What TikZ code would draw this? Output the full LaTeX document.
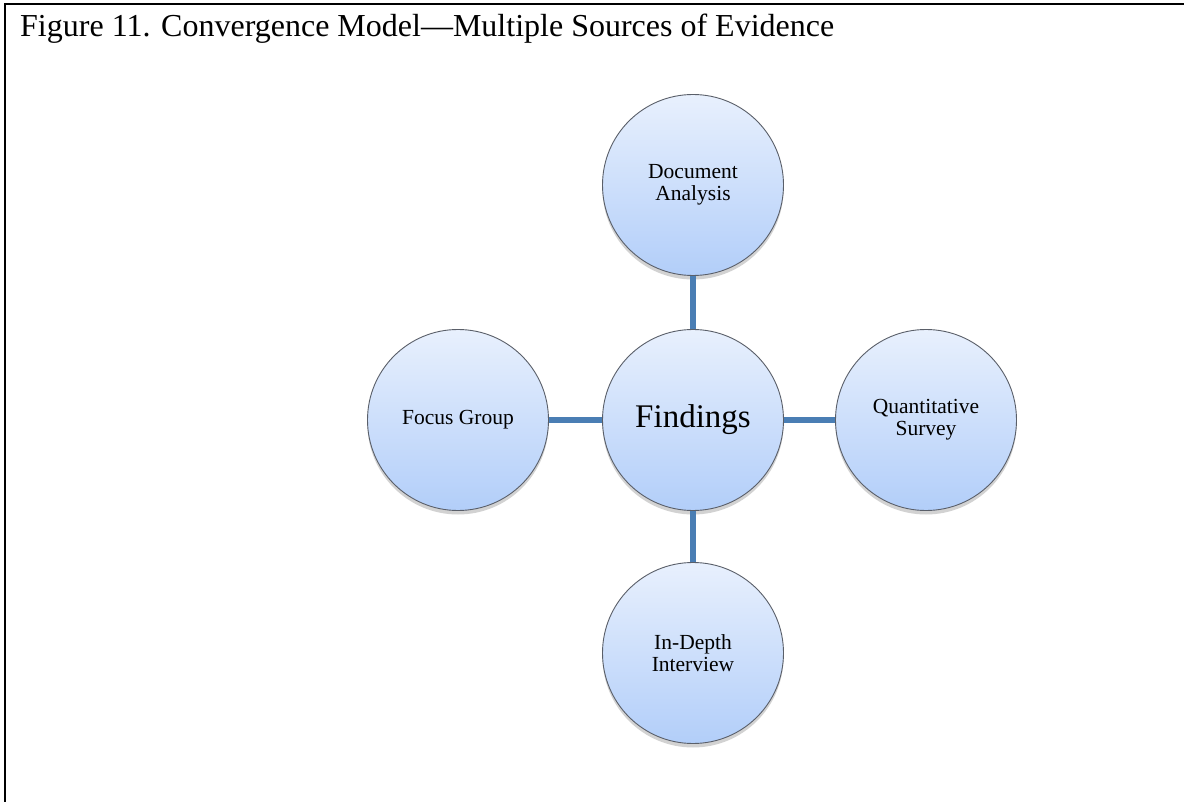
\documentclass[tikz,border=0pt]{standalone}
\usepackage{fontspec}
\setmainfont{Liberation Serif}
\usetikzlibrary{shadows}
\definecolor{linkblue}{RGB}{74,126,180}
\definecolor{ctop}{RGB}{232,240,253}
\definecolor{cbot}{RGB}{178,206,249}
\definecolor{cedge}{RGB}{90,95,105}
\tikzset{
  src/.style={circle, minimum size=181pt, inner sep=0pt, draw=cedge, line width=0.9pt,
    top color=ctop, bottom color=cbot, align=center,
    font=\fontsize{21.5pt}{22pt}\selectfont,
    drop shadow={shadow xshift=0pt, shadow yshift=-4pt, opacity=0.25, fill=black!70}},
  hub/.style={src, font=\fontsize{33pt}{36pt}\selectfont},
  link/.style={draw=linkblue, line width=5.5pt},
  frameline/.style={draw=black, line width=2pt}
}
\begin{document}
\begin{tikzpicture}[x=1pt, y=-1pt]
\useasboundingbox (0,0) rectangle (1184,802);
\fill[white] (0,0) rectangle (1184,802);
\coordinate (ftl) at (5,4);
\coordinate (ftr) at (1184,4);
\coordinate (fbl) at (5,802);
\draw[frameline] (ftr) -- (ftl) -- (fbl);
\node[anchor=base west, font=\fontsize{32pt}{34pt}\selectfont, inner sep=0pt] (title) at (20,37) {Figure 11. Convergence Model---Multiple Sources of Evidence};
\node[hub] (find) at (693,420) {Findings};
\node[src] (doc) at (693,185) {Document\\Analysis};
\node[src] (focus) at (458,420) {Focus Group};
\node[src] (quant) at (926,420) {Quantitative\\Survey};
\node[src] (depth) at (693,653) {In-Depth\\Interview};
\draw[link] (find.north) -- (doc.south);
\draw[link] (find.west) -- (focus.east);
\draw[link] (find.east) -- (quant.west);
\draw[link] (find.south) -- (depth.north);
\end{tikzpicture}
\end{document}
